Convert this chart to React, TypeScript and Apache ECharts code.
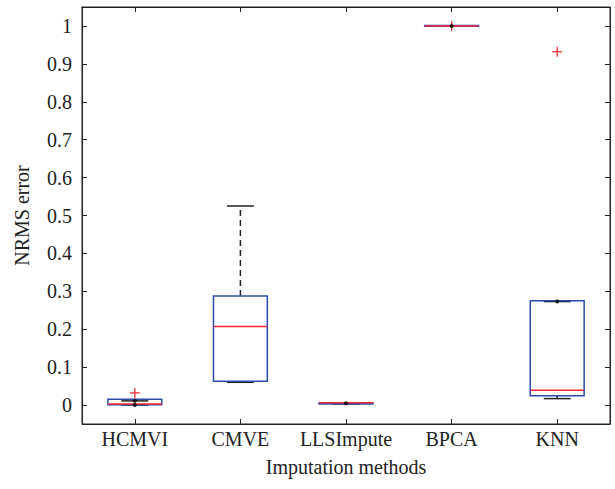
import React, { useEffect, useRef } from "react";
import * as echarts from "echarts";

const categories = ["HCMVI", "CMVE", "LLSImpute", "BPCA", "KNN"];
const lowerWhisker = [0.0, 0.06, 0.003, 1.0, 0.017];
const q1 = [0.001, 0.0625, 0.003, 0.999, 0.0245];
const median = [0.003, 0.207, 0.006, 1.0, 0.039];
const q3 = [0.015, 0.2876, 0.006, 1.001, 0.275];
const upperWhisker = [0.011, 0.525, 0.006, 1.0, 0.273];
const outliers: [number, number][] = [
  [0, 0.032],
  [3, 1.0],
  [4, 0.932],
];
const dots: [number, number][] = [
  [0, 0.011],
  [0, 0.0],
  [2, 0.005],
  [3, 1.0],
  [4, 0.273],
];
const yTicks = [0, 0.1, 0.2, 0.3, 0.4, 0.5, 0.6, 0.7, 0.8, 0.9, 1];

const FONT = "Liberation Serif";
const FS = 20;
const BLUE = "#2b4bab";
const RED = "#f22a36";

export default function App() {
  const ref = useRef<HTMLDivElement>(null);
  useEffect(() => {
    if (!ref.current) return;
    const chart = echarts.init(ref.current, null, { renderer: "svg" });
    const boxData = categories.map((_, i) => [
      i,
      lowerWhisker[i],
      q1[i],
      median[i],
      q3[i],
      upperWhisker[i],
    ]);
    const yAxisBase = {
      type: "value" as const,
      min: -0.05,
      max: 1.05,
      splitLine: { show: false },
      axisLine: { show: true, onZero: false, lineStyle: { color: "#222", width: 1 } },
      axisTick: {
        show: true,
        inside: true,
        length: 5,
        customValues: yTicks,
        lineStyle: { color: "#222" },
      },
    };
    const xAxisBase = {
      type: "category" as const,
      data: categories,
      boundaryGap: true,
      axisLine: { show: true, onZero: false, lineStyle: { color: "#222", width: 1 } },
      axisTick: {
        show: true,
        inside: true,
        length: 5,
        interval: 0,
        alignWithLabel: true,
        lineStyle: { color: "#222" },
      },
      splitLine: { show: false },
    };
    const textStyle = { fontFamily: FONT, fontSize: FS, color: "#222", fontWeight: "normal" as const };
    chart.setOption({
      animation: false,
      grid: {
        left: 82,
        right: 5,
        top: 7,
        bottom: 65,
        show: true,
        borderColor: "#222",
        borderWidth: 1,
      },
      xAxis: [
        {
          ...xAxisBase,
          position: "bottom",
          name: "Imputation methods",
          nameLocation: "middle",
          nameGap: 33,
          nameTextStyle: textStyle,
          axisLabel: { ...textStyle, margin: 5, interval: 0, hideOverlap: false },
        },
        {
          ...xAxisBase,
          position: "top",
          axisLabel: { show: false, interval: 0 },
        },
      ],
      yAxis: [
        {
          ...yAxisBase,
          position: "left",
          name: "NRMS error",
          nameLocation: "middle",
          nameGap: 50,
          nameTextStyle: textStyle,
          axisLabel: {
            ...textStyle,
            margin: 10,
            customValues: yTicks,
            formatter: (v: number) => String(Math.round(v * 10) / 10),
          },
        },
        {
          ...yAxisBase,
          position: "right",
          axisLabel: { show: false },
        },
      ],
      series: [
        {
          type: "custom",
          xAxisIndex: 0,
          yAxisIndex: 0,
          data: boxData,
          encode: { x: 0, y: [1, 2, 3, 4, 5] },
          renderItem: (params: any, api: any) => {
            const i = api.value(0);
            const lo = api.value(1);
            const a = api.value(2);
            const m = api.value(3);
            const b = api.value(4);
            const hi = api.value(5);
            const bandW = api.size([1, 0])[0];
            const bw = bandW * 0.51;
            const cw = bandW * 0.255;
            const pLo = api.coord([i, lo]);
            const pA = api.coord([i, a]);
            const pM = api.coord([i, m]);
            const pB = api.coord([i, b]);
            const pHi = api.coord([i, hi]);
            const cx = pM[0];
            const children: any[] = [];
            if (hi > b) {
              children.push({
                type: "line",
                shape: { x1: cx, y1: pB[1], x2: cx, y2: pHi[1] },
                style: { stroke: "#222", lineWidth: 1.5, lineDash: [6, 4] },
              });
            }
            if (lo < a) {
              children.push({
                type: "line",
                shape: { x1: cx, y1: pA[1], x2: cx, y2: pLo[1] },
                style: { stroke: "#222", lineWidth: 1.5, lineDash: [6, 4] },
              });
            }
            children.push({
              type: "line",
              shape: { x1: cx - cw / 2, y1: pHi[1], x2: cx + cw / 2, y2: pHi[1] },
              style: { stroke: "#222", lineWidth: 1.5 },
            });
            children.push({
              type: "line",
              shape: { x1: cx - cw / 2, y1: pLo[1], x2: cx + cw / 2, y2: pLo[1] },
              style: { stroke: "#222", lineWidth: 1.5 },
            });
            children.push({
              type: "rect",
              shape: {
                x: cx - bw / 2,
                y: Math.min(pA[1], pB[1]),
                width: bw,
                height: Math.max(Math.abs(pA[1] - pB[1]), 0.5),
              },
              style: { fill: "none", stroke: BLUE, lineWidth: 1.5 },
            });
            children.push({
              type: "line",
              shape: { x1: cx - bw / 2, y1: pM[1], x2: cx + bw / 2, y2: pM[1] },
              style: { stroke: RED, lineWidth: 1.5 },
            });
            return { type: "group", children };
          },
          z: 2,
        },
        {
          type: "custom",
          xAxisIndex: 0,
          yAxisIndex: 0,
          data: outliers,
          renderItem: (params: any, api: any) => {
            const p = api.coord([api.value(0), api.value(1)]);
            const h = 5;
            return {
              type: "group",
              children: [
                {
                  type: "line",
                  shape: { x1: p[0] - h, y1: p[1], x2: p[0] + h, y2: p[1] },
                  style: { stroke: RED, lineWidth: 1.3 },
                },
                {
                  type: "line",
                  shape: { x1: p[0], y1: p[1] - h, x2: p[0], y2: p[1] + h },
                  style: { stroke: RED, lineWidth: 1.3 },
                },
              ],
            };
          },
          z: 3,
        },
        {
          type: "scatter",
          xAxisIndex: 0,
          yAxisIndex: 0,
          data: dots,
          symbol: "circle",
          symbolSize: 4,
          itemStyle: { color: "#000" },
          z: 4,
        },
      ],
    });
    return () => chart.dispose();
  }, []);
  return <div ref={ref} style={{ width: 615, height: 489, position: "absolute", left: 0, top: 0 }} />;
}
